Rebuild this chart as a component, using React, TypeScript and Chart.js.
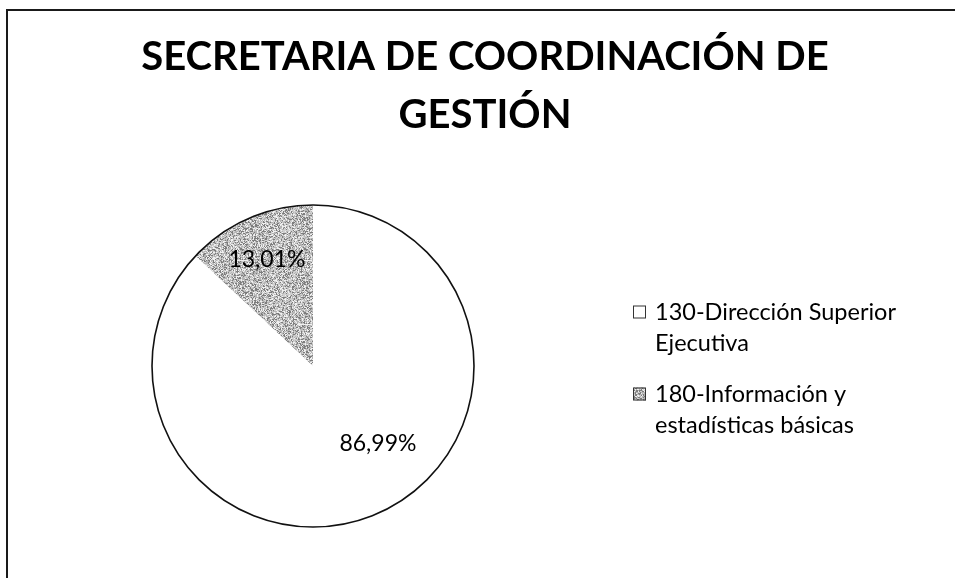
import React, { useEffect, useRef } from "react";
import { Chart, registerables } from "chart.js";

Chart.register(...registerables);

const TITLE_LINES = ["SECRETARIA DE COORDINACIÓN DE", "GESTIÓN"];
const CATEGORIES = ["130-Dirección Superior Ejecutiva", "180-Información y estadísticas básicas"];
const LEGEND_LINES = [
  ["130-Dirección Superior", "Ejecutiva"],
  ["180-Información y", "estadísticas básicas"],
];
const VALUES = [86.99, 13.01];
const VALUE_LABELS = ["86,99%", "13,01%"];

const FONT = "Lato, 'Open Sans', sans-serif";

function makePattern(): CanvasPattern | string {
  const c = document.createElement("canvas");
  c.width = 64;
  c.height = 64;
  const ctx = c.getContext("2d");
  if (!ctx) return "#b8b8b8";
  const img = ctx.createImageData(64, 64);
  let h = 12345;
  for (let i = 0; i < 64 * 64; i++) {
    h = (h * 1103515245 + 12345) & 0x7fffffff;
    const r = (h >> 8) % 256;
    const v = r < 60 ? 125 : r < 140 ? 180 : r < 205 ? 208 : 240;
    img.data[i * 4] = v;
    img.data[i * 4 + 1] = v;
    img.data[i * 4 + 2] = v;
    img.data[i * 4 + 3] = 255;
  }
  ctx.putImageData(img, 0, 0);
  const p = ctx.createPattern(c, "repeat");
  return p || "#b8b8b8";
}

export default function App() {
  const ref = useRef<HTMLCanvasElement | null>(null);

  useEffect(() => {
    if (!ref.current) return;
    const pattern = makePattern();
    const fills = ["#ffffff", pattern];
    const labelAngleShift = [-16.4, 0];
    const labelRadius = [0.63, 0.72];

    const decor = {
      id: "decor",
      beforeDraw(chart: any) {
        const ctx = chart.ctx as CanvasRenderingContext2D;
        ctx.save();
        ctx.fillStyle = "#ffffff";
        ctx.fillRect(0, 0, chart.width, chart.height);
        // frame
        ctx.strokeStyle = "#1a1a1a";
        ctx.lineWidth = 2;
        ctx.beginPath();
        ctx.moveTo(7, chart.height);
        ctx.lineTo(7, 10);
        ctx.lineTo(chart.width, 10);
        ctx.stroke();
        // title
        ctx.fillStyle = "#000";
        ctx.font = `bold 40px ${FONT}`;
        ctx.textAlign = "center";
        ctx.textBaseline = "middle";
        TITLE_LINES.forEach((t, i) => ctx.fillText(t, 485, 57 + i * 58));
        ctx.restore();
      },
      afterDatasetsDraw(chart: any) {
        const ctx = chart.ctx as CanvasRenderingContext2D;
        const meta = chart.getDatasetMeta(0);
        const a0 = meta.data[0];
        ctx.save();
        // outer circle
        ctx.strokeStyle = "#111";
        ctx.lineWidth = 1.6;
        ctx.beginPath();
        ctx.arc(a0.x, a0.y, a0.outerRadius, 0, Math.PI * 2);
        ctx.stroke();
        // value labels
        ctx.fillStyle = "#000";
        ctx.font = `23px ${FONT}`;
        ctx.textAlign = "center";
        ctx.textBaseline = "middle";
        meta.data.forEach((arc: any, i: number) => {
          const mid = (arc.startAngle + arc.endAngle) / 2 + (labelAngleShift[i] * Math.PI) / 180;
          const r = arc.outerRadius * labelRadius[i];
          ctx.fillText(VALUE_LABELS[i], arc.x + Math.cos(mid) * r, arc.y + Math.sin(mid) * r);
        });
        // legend
        const boxX = 633;
        let y = 312;
        ctx.textAlign = "left";
        ctx.font = `23.5px ${FONT}`;
        LEGEND_LINES.forEach((lines, i) => {
          ctx.fillStyle = fills[i] as any;
          ctx.fillRect(boxX, y - 6.5, 13, 13);
          ctx.strokeStyle = "#333";
          ctx.lineWidth = 1;
          ctx.strokeRect(boxX + 0.5, y - 6, 12, 12);
          ctx.fillStyle = "#000";
          lines.forEach((ln, j) => ctx.fillText(ln, 655, y + j * 31));
          y += 31 * lines.length + 20;
        });
        ctx.restore();
      },
    };

    const chart = new Chart(ref.current, {
      type: "pie",
      data: {
        labels: CATEGORIES,
        datasets: [
          {
            data: VALUES,
            backgroundColor: fills as any,
            borderWidth: 0,
          },
        ],
      },
      options: {
        animation: false,
        responsive: false,
        layout: { padding: { left: 152, top: 205, right: 481, bottom: 51 } },
        plugins: {
          legend: { display: false },
          title: { display: false },
          tooltip: { enabled: false },
        },
      },
      plugins: [decor],
    });
    return () => chart.destroy();
  }, []);

  return (
    <div style={{ position: "fixed", left: 0, top: 0, width: 955, height: 578, background: "#fff" }}>
      <canvas ref={ref} width={955} height={578} style={{ width: 955, height: 578, display: "block" }} />
    </div>
  );
}
